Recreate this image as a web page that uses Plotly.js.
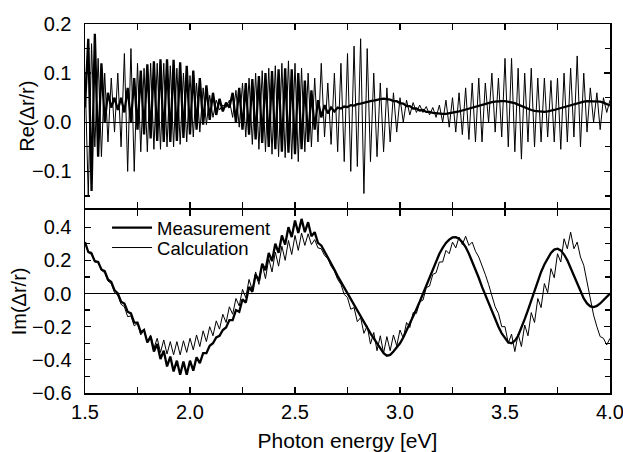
<!DOCTYPE html>
<html><head><meta charset="utf-8">
<script src="https://cdn.plot.ly/plotly-3.0.1.min.js"></script>
<style>html,body{margin:0;padding:0;background:#fff}#chart{width:623px;height:452px}</style>
</head><body><div id="chart"></div>
<script>
// Photon energy sampling grid (eV): 1.5 .. 4.0, 161 samples
const energyStart = 1.5, energyStep = 0.015625, nPoints = 161;
const energy = Array.from({length: nPoints}, (_, i) => energyStart + i * energyStep);

// Re(Δr/r) — measurement (thick)
const reMeas = [
 0.03,0.17,-0.14,0.18,-0.07,0.12,0.0,0.06,0.03,0.05,
 0.025,0.05,0.02,0.07,0.0,0.09,-0.015,0.105,-0.025,0.118,
 -0.033,0.124,-0.038,0.128,-0.04,0.128,-0.04,0.127,-0.038,0.122,
 -0.032,0.115,-0.025,0.105,-0.015,0.09,-0.005,0.075,0.005,0.06,
 0.015,0.048,0.022,0.04,0.03,0.06,0.0,0.07,-0.015,0.08,
 -0.025,0.088,-0.035,0.094,-0.042,0.1,-0.05,0.104,-0.055,0.108,
 -0.06,0.11,-0.062,0.108,-0.065,0.1,-0.055,0.085,-0.04,0.065,
 -0.015,0.045,0.01,0.035,0.018,0.03,0.022,0.03,0.028,0.032,
 0.031,0.035,0.034,0.037,0.038,0.04,0.041,0.043,0.044,0.046,
 0.047,0.048,0.047,0.046,0.043,0.043,0.039,0.038,0.033,0.033,
 0.028,0.028,0.024,0.025,0.021,0.021,0.019,0.018,0.017,0.017,
 0.017,0.018,0.019,0.02,0.022,0.024,0.026,0.028,0.03,0.032,
 0.034,0.036,0.038,0.04,0.041,0.042,0.043,0.043,0.043,0.042,
 0.041,0.039,0.036,0.033,0.03,0.027,0.025,0.023,0.022,0.021,
 0.021,0.022,0.023,0.025,0.027,0.029,0.031,0.033,0.035,0.037,
 0.039,0.041,0.042,0.043,0.043,0.043,0.043,0.042,0.04,0.037,
 0.034];

// Re(Δr/r) — calculation (thin)
const reCalc = [
 0.1,-0.15,0.16,-0.05,0.13,-0.07,0.1,-0.04,0.09,-0.02,
 0.1,-0.05,0.14,-0.1,0.15,-0.1,0.12,-0.06,0.11,-0.06,
 0.12,-0.055,0.12,-0.055,0.12,-0.05,0.115,-0.05,0.11,-0.045,
 0.1,-0.04,0.095,-0.03,0.08,-0.02,0.07,-0.005,0.055,0.01,
 0.045,0.025,0.035,0.03,0.045,0.01,0.065,-0.01,0.08,-0.03,
 0.09,-0.045,0.1,-0.055,0.105,-0.06,0.11,-0.065,0.115,-0.07,
 0.12,-0.072,0.125,-0.075,0.12,-0.08,0.11,-0.06,0.1,-0.05,
 0.09,-0.04,0.12,-0.03,0.08,-0.045,0.1,-0.06,0.12,-0.08,
 0.14,-0.1,0.155,-0.09,0.17,-0.145,0.15,-0.08,0.1,-0.07,
 0.08,-0.06,0.07,-0.04,0.06,-0.02,0.05,0.0,0.045,0.015,
 0.04,0.02,0.035,0.02,0.032,0.015,0.03,0.01,0.035,0.0,
 0.045,-0.01,0.05,-0.02,0.06,-0.025,0.07,-0.035,0.08,-0.04,
 0.09,-0.04,0.08,0.0,0.1,-0.02,0.09,-0.03,0.13,-0.05,
 0.13,-0.06,0.11,-0.075,0.1,-0.04,0.11,-0.05,0.09,-0.04,
 0.09,-0.03,0.085,-0.04,0.09,-0.055,0.1,-0.04,0.11,-0.03,
 0.135,-0.05,0.1,-0.02,0.07,0.0,0.06,-0.015,0.05,0.02,
 0.045];

// Im(Δr/r) — measurement (thick)
const imMeas = [
 0.31,0.25,0.24,0.195,0.19,0.145,0.135,0.085,0.07,0.02,
 0.0,-0.05,-0.06,-0.11,-0.12,-0.175,-0.175,-0.235,-0.22,-0.295,
 -0.26,-0.35,-0.305,-0.395,-0.345,-0.44,-0.38,-0.47,-0.405,-0.49,
 -0.41,-0.49,-0.405,-0.465,-0.385,-0.42,-0.36,-0.36,-0.315,-0.3,
 -0.265,-0.255,-0.22,-0.205,-0.16,-0.16,-0.1,-0.11,-0.035,-0.055,
 0.04,0.01,0.115,0.075,0.18,0.14,0.245,0.195,0.3,0.245,
 0.35,0.295,0.4,0.34,0.44,0.365,0.45,0.37,0.43,0.345,
 0.37,0.305,0.29,0.255,0.22,0.185,0.145,0.105,0.07,0.035,
 0.0,-0.035,-0.07,-0.105,-0.14,-0.175,-0.21,-0.24,-0.27,-0.3,
 -0.33,-0.36,-0.375,-0.37,-0.35,-0.325,-0.3,-0.265,-0.225,-0.185,
 -0.14,-0.095,-0.05,0.0,0.05,0.1,0.15,0.195,0.24,0.275,
 0.305,0.325,0.338,0.34,0.33,0.31,0.28,0.24,0.195,0.145,
 0.095,0.04,-0.01,-0.06,-0.11,-0.16,-0.2,-0.24,-0.27,-0.295,
 -0.3,-0.285,-0.255,-0.21,-0.155,-0.1,-0.04,0.02,0.075,0.13,
 0.175,0.215,0.245,0.265,0.27,0.26,0.235,0.2,0.155,0.105,
 0.055,0.01,-0.03,-0.06,-0.078,-0.082,-0.075,-0.06,-0.042,-0.022,
 0.0];

// Im(Δr/r) — calculation (thin)
const imCalc = [
 0.31,0.25,0.25,0.19,0.19,0.14,0.125,0.075,0.06,0.005,
 -0.01,-0.065,-0.08,-0.14,-0.135,-0.195,-0.18,-0.25,-0.22,-0.295,
 -0.25,-0.33,-0.27,-0.355,-0.28,-0.365,-0.29,-0.37,-0.29,-0.37,
 -0.285,-0.355,-0.27,-0.34,-0.25,-0.32,-0.225,-0.29,-0.2,-0.255,
 -0.165,-0.215,-0.125,-0.175,-0.08,-0.125,-0.03,-0.075,0.025,-0.025,
 0.085,0.02,0.13,0.055,0.175,0.09,0.21,0.13,0.25,0.165,
 0.285,0.2,0.32,0.235,0.35,0.26,0.365,0.29,0.36,0.295,
 0.325,0.275,0.27,0.23,0.21,0.165,0.135,0.085,0.055,-0.005,
 -0.025,-0.095,-0.085,-0.17,-0.145,-0.24,-0.195,-0.305,-0.235,-0.345,
 -0.255,-0.36,-0.26,-0.345,-0.25,-0.315,-0.22,-0.27,-0.175,-0.205,
 -0.115,-0.12,-0.05,-0.04,0.035,0.045,0.115,0.125,0.19,0.19,
 0.26,0.24,0.31,0.275,0.34,0.295,0.345,0.29,0.31,0.255,
 0.22,0.17,0.115,0.055,-0.01,-0.08,-0.12,-0.2,-0.2,-0.3,
 -0.245,-0.35,-0.245,-0.32,-0.19,-0.255,-0.115,-0.175,-0.03,-0.085,
 0.06,0.005,0.15,0.095,0.24,0.19,0.33,0.27,0.37,0.27,
 0.31,0.22,0.17,0.07,-0.04,-0.13,-0.2,-0.26,-0.27,-0.31,
 -0.27];

const seriesNames = ['Measurement', 'Calculation'];
const xTitle = 'Photon energy [eV]';
const yTitleTop = 'Re(\u0394r/r)';
const yTitleBottom = 'Im(\u0394r/r)';

const FONT = 'Arial, "Liberation Sans", Helvetica, sans-serif';
const thick = {color: '#000', width: 2.3};
const thin = {color: '#000', width: 1};

const traces = [
  {x: energy, y: reCalc, xaxis: 'x2', yaxis: 'y', mode: 'lines', line: thin, showlegend: false, hoverinfo: 'skip'},
  {x: energy, y: reMeas, xaxis: 'x2', yaxis: 'y', mode: 'lines', line: thick, showlegend: false, hoverinfo: 'skip'},
  {x: energy, y: imMeas, xaxis: 'x', yaxis: 'y2', mode: 'lines', line: thick, name: seriesNames[0], legend: 'legend'},
  {x: energy, y: imCalc, xaxis: 'x', yaxis: 'y2', mode: 'lines', line: thin, name: seriesNames[1], legend: 'legend2'}
];

const tickStyle = {
  showline: true, linecolor: '#000', linewidth: 1.5, mirror: 'ticks',
  ticks: 'inside', ticklen: 6, tickwidth: 1.3, tickcolor: '#000',
  showgrid: false, tickfont: {family: FONT, size: 20, color: '#000'}
};
const plotH = 452 - 24 - 59;
const split = 0.4986, gap = 0.75 / plotH;

const legendStyle = {
  xanchor: 'left', yanchor: 'top', bgcolor: 'rgba(0,0,0,0)', borderwidth: 0,
  font: {family: FONT, size: 18.5, color: '#000'}, itemwidth: 40
};

const layout = {
  width: 623, height: 452,
  margin: {l: 85, r: 13, t: 24, b: 59},
  paper_bgcolor: '#fff', plot_bgcolor: '#fff',
  font: {family: FONT, color: '#000'},
  xaxis: Object.assign({}, tickStyle, {
    anchor: 'y2', domain: [0, 1], range: [1.5, 4.0], tick0: 1.5, dtick: 0.5, tickformat: '.1f',
    zeroline: false, ticklabeloverflow: 'allow',
    minor: {dtick: 0.25, ticks: 'inside', ticklen: 6, tickwidth: 1.3, tickcolor: '#000', showgrid: false},
    title: {text: xTitle, font: {family: FONT, size: 21, color: '#000'}, standoff: 12}
  }),
  xaxis2: Object.assign({}, tickStyle, {
    anchor: 'y', matches: 'x', domain: [0, 1], range: [1.5, 4.0], tick0: 1.5, dtick: 0.5,
    showticklabels: false, zeroline: false,
    minor: {dtick: 0.25, ticks: 'inside', ticklen: 6, tickwidth: 1.3, tickcolor: '#000', showgrid: false}
  }),
  yaxis: Object.assign({}, tickStyle, {
    anchor: 'x2', domain: [split + gap, 1], range: [-0.175, 0.2], dtick: 0.1, tick0: 0, tickformat: '.1f',
    zeroline: true, zerolinecolor: '#000', zerolinewidth: 1.5, ticklabelstandoff: 8,
    minor: {dtick: 0.05, ticks: 'inside', ticklen: 5, tickwidth: 1.3, tickcolor: '#000', showgrid: false},
    title: {text: yTitleTop, font: {family: FONT, size: 20, color: '#000'}}
  }),
  yaxis2: Object.assign({}, tickStyle, {
    anchor: 'x', domain: [0, split - gap], range: [-0.6, 0.505], dtick: 0.2, tick0: 0, tickformat: '.1f',
    zeroline: true, zerolinecolor: '#000', zerolinewidth: 1.5, ticklabelstandoff: 8,
    minor: {dtick: 0.1, ticks: 'inside', ticklen: 5, tickwidth: 1.3, tickcolor: '#000', showgrid: false},
    title: {text: yTitleBottom, font: {family: FONT, size: 20, color: '#000'}}
  }),
  legend: Object.assign({}, legendStyle, {x: 0.042, y: (393 - 209) / plotH}),
  legend2: Object.assign({}, legendStyle, {x: 0.042, y: (393 - 229) / plotH}),
  showlegend: true
};

Plotly.newPlot('chart', traces, layout, {staticPlot: true, displayModeBar: false});
</script></body></html>
